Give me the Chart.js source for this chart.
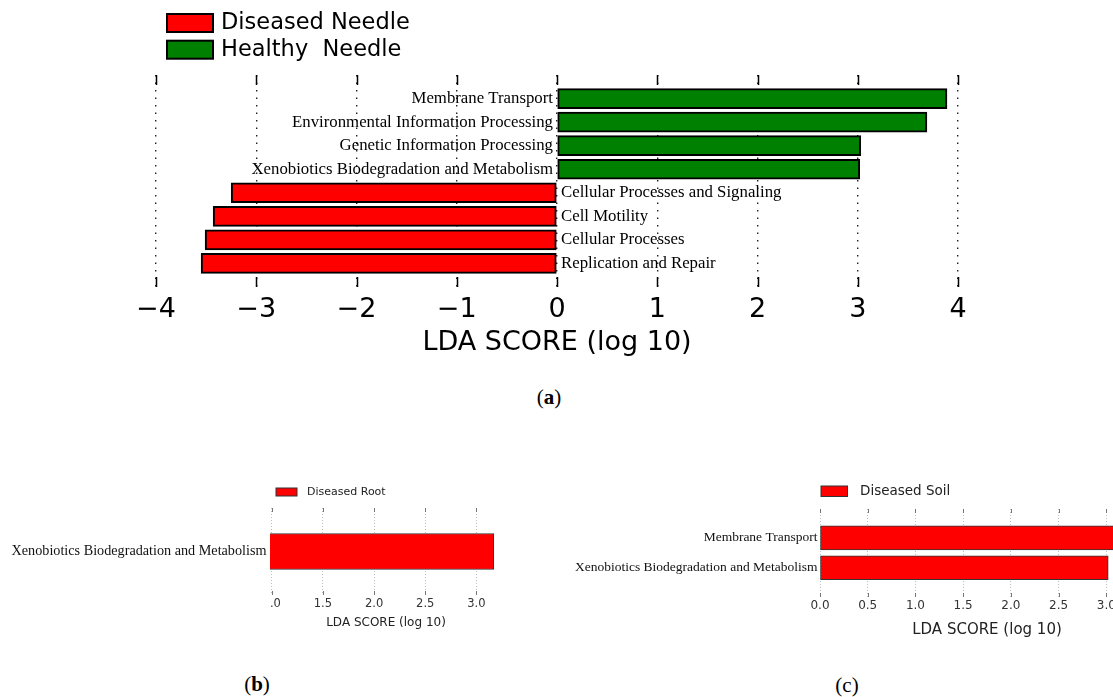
<!DOCTYPE html>
<html>
<head>
<meta charset="utf-8">
<title>LDA scores</title>
<script src="https://cdn.jsdelivr.net/npm/chart.js@4.4.1/dist/chart.umd.min.js"></script>
<style>
  html, body { margin: 0; padding: 0; background: #fff; }
  body { width: 1113px; height: 697px; position: relative; overflow: hidden; }
  canvas { position: absolute; }
  #needle { left: 0; top: 0; }
  #root { left: 0; top: 470px; }
  #soil { left: 540px; top: 470px; }
  .tag { position: absolute; font-family: "Liberation Serif", serif; font-size: 21px; line-height: 24px; color: #000; transform: translateX(-50%); }
</style>
</head>
<body>
<canvas id="needle" width="1113" height="360"></canvas>
<canvas id="root" width="540" height="170"></canvas>
<canvas id="soil" width="640" height="170"></canvas>
<div class="tag" style="left:549px; top:385px">(<b>a</b>)</div>
<div class="tag" style="left:257px; top:672px">(<b>b</b>)</div>
<div class="tag" style="left:847px; top:673px">(c)</div>
<script>
// (a) needles
const healthyNeedleNames = ['Membrane Transport', 'Environmental Information Processing',
  'Genetic Information Processing', 'Xenobiotics Biodegradation and Metabolism'];
const healthyNeedleScores = [3.89, 3.69, 3.03, 3.02];
const diseasedNeedleNames = ['Cellular Processes and Signaling', 'Cell Motility',
  'Cellular Processes', 'Replication and Repair'];
const diseasedNeedleScores = [-3.25, -3.43, -3.51, -3.55];
const needleTicks = [-4, -3, -2, -1, 0, 1, 2, 3, 4];

// (b) root
const rootNames = ['Xenobiotics Biodegradation and Metabolism'];
const rootScores = [3.17];
const rootTicks = [1.0, 1.5, 2.0, 2.5, 3.0];

// (c) soil
const soilNames = ['Membrane Transport', 'Xenobiotics Biodegradation and Metabolism'];
const soilScores = [3.15, 3.02];
const soilTicks = [0, 0.5, 1.0, 1.5, 2.0, 2.5, 3.0];

Chart.defaults.font.family = '"DejaVu Sans", sans-serif';

// one bar per row, row number on the (hidden) linear y axis
function rowsOf(scores, first) {
  return scores.map((v, i) => ({ x: v, y: first + i }));
}

function fixedTicks(values) {
  return scale => { scale.ticks = values.map(v => ({ value: v })); };
}

// pathway names next to the bars: at the zero line, or left of the axes
const barNames = {
  id: 'barNames',
  afterDatasetsDraw(chart, args, opts) {
    const { ctx, chartArea } = chart;
    const x0 = chart.scales.x.getPixelForValue(0);
    ctx.save();
    ctx.font = opts.font;
    ctx.fillStyle = opts.color;
    ctx.textBaseline = 'middle';
    chart.data.datasets.forEach((ds, i) => {
      chart.getDatasetMeta(i).data.forEach((bar, j) => {
        const point = ds.data[j];
        const name = chart.data.labels[point.y];
        let x;
        if (opts.side === 'left') {
          ctx.textAlign = 'right';
          x = chartArea.left - opts.gap;
        } else if (point.x >= 0) {
          ctx.textAlign = 'right';
          x = x0 - opts.gap;
        } else {
          ctx.textAlign = 'left';
          x = x0 + opts.gap;
        }
        ctx.fillText(name, x, bar.y);
      });
    });
    ctx.restore();
  }
};

// short tick marks pointing into the plot, top and bottom
const edgeTicks = {
  id: 'edgeTicks',
  afterDraw(chart, args, opts) {
    const { ctx, chartArea, scales: { x } } = chart;
    ctx.save();
    ctx.strokeStyle = opts.color;
    ctx.lineWidth = opts.width;
    ctx.beginPath();
    x.ticks.forEach(t => {
      const px = Math.round(x.getPixelForValue(t.value)) + 0.5;
      ctx.moveTo(px, chartArea.top);
      ctx.lineTo(px, chartArea.top + opts.length);
      ctx.moveTo(px, chartArea.bottom);
      ctx.lineTo(px, chartArea.bottom - opts.length);
    });
    ctx.stroke();
    ctx.restore();
  }
};

// legend as a column of boxes in a corner of the canvas
const boxLegend = {
  id: 'boxLegend',
  afterDraw(chart, args, o) {
    const ctx = chart.ctx;
    ctx.save();
    ctx.font = o.font;
    ctx.textBaseline = 'middle';
    ctx.textAlign = 'left';
    chart.data.datasets.forEach((ds, i) => {
      const y = o.y + i * o.rowGap;
      ctx.fillStyle = ds.backgroundColor;
      ctx.fillRect(o.x, y, o.boxWidth, o.boxHeight);
      ctx.lineWidth = o.borderWidth;
      ctx.strokeStyle = o.borderColor;
      ctx.strokeRect(o.x, y, o.boxWidth, o.boxHeight);
      ctx.fillStyle = o.color;
      ctx.fillText(ds.label, o.x + o.boxWidth + o.gap, y + o.boxHeight / 2);
    });
    ctx.restore();
  }
};

// the root panel is cut at its left edge, taking the first digit of "1.0" with it
const cropLeft = {
  id: 'cropLeft',
  afterDraw(chart) {
    const { ctx, chartArea } = chart;
    ctx.clearRect(0, chartArea.bottom + 1, chartArea.left, 18);
  }
};

new Chart(document.getElementById('needle'), {
  type: 'bar',
  data: {
    labels: healthyNeedleNames.concat(diseasedNeedleNames),
    datasets: [
      { label: 'Diseased Needle', data: rowsOf(diseasedNeedleScores, healthyNeedleNames.length), backgroundColor: '#ff0000' },
      { label: 'Healthy  Needle', data: rowsOf(healthyNeedleScores, 0), backgroundColor: '#008000' }
    ]
  },
  options: {
    indexAxis: 'y',
    responsive: false,
    animation: false,
    layout: { padding: { left: 156, right: 155, top: 75, bottom: 0 } },
    datasets: {
      bar: { grouped: false, barThickness: 20, borderColor: '#000', borderWidth: 2, borderSkipped: false }
    },
    scales: {
      x: {
        type: 'linear', min: -4, max: 4, z: 1,
        afterBuildTicks: fixedTicks(needleTicks),
        afterFit: s => { s.height = 73; },
        grid: { color: '#222', lineWidth: 1.4, drawTicks: false },
        border: { display: false, dash: [1.5, 6] },
        ticks: {
          padding: 7, color: '#000', font: { size: 27 },
          callback: v => String(v).replace('-', '\u2212')
        },
        title: {
          display: true, text: 'LDA SCORE (log 10)', color: '#000',
          font: { size: 27 }, padding: { top: 0, bottom: 1 }
        }
      },
      y: { type: 'linear', display: false, offset: false, reverse: true, min: -1, max: 8 }
    },
    plugins: {
      legend: { display: false },
      tooltip: { enabled: false },
      barNames: { font: '16.8px "Liberation Serif", serif', color: '#000', gap: 4 },
      edgeTicks: { length: 10, color: '#000', width: 1.5 },
      boxLegend: {
        x: 167, y: 14, rowGap: 26.7, boxWidth: 46, boxHeight: 18, gap: 8,
        font: '22.5px "DejaVu Sans", sans-serif', color: '#000', borderColor: '#000', borderWidth: 2
      }
    }
  },
  plugins: [barNames, edgeTicks, boxLegend]
});

new Chart(document.getElementById('root'), {
  type: 'bar',
  data: {
    labels: rootNames,
    datasets: [{ label: 'Diseased Root', data: rowsOf(rootScores, 0), backgroundColor: '#ff0000' }]
  },
  options: {
    indexAxis: 'y',
    responsive: false,
    animation: false,
    layout: { padding: { left: 270, right: 38, top: 38, bottom: 0 } },
    datasets: {
      bar: { barThickness: 36, borderColor: '#333', borderWidth: 1, borderSkipped: false }
    },
    scales: {
      x: {
        type: 'linear', min: 0.983, max: 3.25,
        afterBuildTicks: fixedTicks(rootTicks),
        afterFit: s => { s.height = 45; },
        grid: { color: '#bdbdbd', lineWidth: 1, drawTicks: false },
        border: { display: false, dash: [1, 2] },
        ticks: { padding: 2, color: '#333', font: { size: 11.5 }, callback: v => v.toFixed(1) },
        title: {
          display: true, text: 'LDA SCORE (log 10)', color: '#222',
          font: { size: 12 }, padding: { top: 0, bottom: 10 }
        }
      },
      y: { type: 'linear', display: false, offset: false, reverse: true, min: -1, max: 1 }
    },
    plugins: {
      legend: { display: false },
      tooltip: { enabled: false },
      barNames: { side: 'left', font: '14.2px "Liberation Serif", serif', color: '#111', gap: 3.5 },
      edgeTicks: { length: 4, color: '#777', width: 1 },
      boxLegend: {
        x: 276, y: 18, rowGap: 0, boxWidth: 21, boxHeight: 8, gap: 10,
        font: '11px "DejaVu Sans", sans-serif', color: '#222', borderColor: '#333', borderWidth: 1
      }
    }
  },
  plugins: [barNames, edgeTicks, boxLegend, cropLeft]
});

new Chart(document.getElementById('soil'), {
  type: 'bar',
  data: {
    labels: soilNames,
    datasets: [{ label: 'Diseased Soil', data: rowsOf(soilScores, 0), backgroundColor: '#ff0000' }]
  },
  options: {
    indexAxis: 'y',
    responsive: false,
    animation: false,
    layout: { padding: { left: 280, right: 26, top: 39, bottom: 0 } },
    datasets: {
      bar: { barThickness: 24, borderColor: '#333', borderWidth: 1, borderSkipped: false }
    },
    scales: {
      x: {
        type: 'linear', min: 0, max: 3.5,
        afterBuildTicks: fixedTicks(soilTicks),
        afterFit: s => { s.height = 43; },
        grid: { color: '#bdbdbd', lineWidth: 1, drawTicks: false },
        border: { display: false, dash: [1, 2] },
        ticks: { padding: 2, color: '#333', font: { size: 12 }, callback: v => v.toFixed(1) },
        title: {
          display: true, text: 'LDA SCORE (log 10)', color: '#222',
          font: { size: 15 }, padding: { top: 0, bottom: 1 }
        }
      },
      y: { type: 'linear', display: false, offset: false, reverse: true, min: -0.97, max: 1.98 }
    },
    plugins: {
      legend: { display: false },
      tooltip: { enabled: false },
      barNames: { side: 'left', font: '13.5px "Liberation Serif", serif', color: '#111', gap: 2.5 },
      edgeTicks: { length: 4, color: '#777', width: 1 },
      boxLegend: {
        x: 281, y: 16, rowGap: 0, boxWidth: 26.5, boxHeight: 10.5, gap: 12.5,
        font: '13.5px "DejaVu Sans", sans-serif', color: '#222', borderColor: '#333', borderWidth: 1
      }
    }
  },
  plugins: [barNames, edgeTicks, boxLegend]
});
</script>
</body>
</html>
